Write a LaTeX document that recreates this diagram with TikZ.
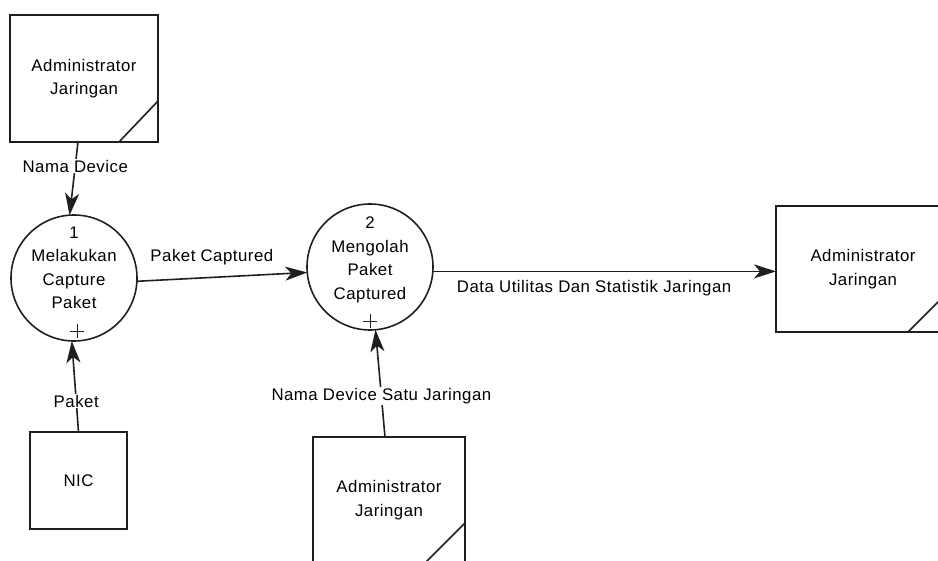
\documentclass[tikz,border=0pt]{standalone}
\usepackage{fontspec}
\setmainfont{Liberation Sans}[LetterSpace=3]
\usetikzlibrary{arrows.meta,calc}
\begin{document}
\begin{tikzpicture}[x=1pt,y=-1pt,
  font=\fontsize{16.8}{23.5}\selectfont,
  every node/.style={inner sep=0pt, outer sep=0pt},
  line/.style={line width=1.6pt, draw=black!88},
  flow/.style={line, -{Stealth[length=22pt,width=14pt,inset=6pt]}},
  proc/.style={circle, line, minimum size=126pt},
  ent/.style={rectangle, line, align=center},
  lbl/.style={fill=white, inner sep=1pt, align=center},
  ptext/.style={align=center},
  crossmark/.style={line width=0.8pt, draw=black!88}
]
\useasboundingbox (0,0) rectangle (938,561);
\clip (0,0) rectangle (938,561);

% external entities (boxes with a corner slash)
\node[ent, minimum width=148pt, minimum height=127pt] (adm1) at (84,78.5)
  {Administrator\\Jaringan};
\node[ent, minimum width=174pt, minimum height=126pt] (adm2) at (863,269)
  {Administrator\\Jaringan};
\node[ent, minimum width=152pt, minimum height=126pt] (adm3) at (389,500)
  {Administrator\\Jaringan};
\node[ent, minimum width=97pt, minimum height=97pt] (nic) at (78.5,480.5) {NIC};

% corner slashes
\draw[line] ($(adm1.south east)+(0,-41)$) -- ($(adm1.south east)+(-39,0)$);
\draw[line] ($(adm2.south east)+(0,-42)$) -- ($(adm2.south east)+(-42,0)$);
\draw[line] ($(adm3.south east)+(0,-40)$) -- ($(adm3.south east)+(-40,0)$);

% processes
\node[proc] (p1) at (74,278) {};
\node[proc] (p2) at (370,267) {};
\node[ptext] (p1t) at (74,268) {1\\Melakukan\\Capture\\Paket};
\node[ptext] (p2t) at (370,260) {2\\Mengolah\\Paket\\Captured};

% expansion marks at the bottom of each process
\coordinate (plus1) at (77,331);
\coordinate (plus2) at (370,321);
\draw[crossmark] ($(plus1)+(-7,0)$) -- ($(plus1)+(7,0)$)
                 ($(plus1)+(0,-7)$) -- ($(plus1)+(0,7)$);
\draw[crossmark] ($(plus2)+(-7,0)$) -- ($(plus2)+(7,0)$)
                 ($(plus2)+(0,-7)$) -- ($(plus2)+(0,7)$);

% data flows
\draw[flow] ([xshift=-6pt]adm1.south) -- node[lbl, pos=0.33] {Nama Device} (p1.94);
\draw[flow] (nic.north) -- node[lbl, pos=0.34] {Paket} (p1.268);
\draw[flow] ([xshift=-4pt]adm3.north) -- node[lbl, pos=0.38] {Nama Device Satu Jaringan} (p2.275);
\draw[flow] (p1.-3) -- node[above=12pt, pos=0.44] {Paket Captured} (p2.185);
\draw[flow] (p2.-4) -- node[below=9pt, pos=0.47] (dlbl) {Data Utilitas Dan Statistik Jaringan} (p2.-4 -| adm2.west);
\end{tikzpicture}
\end{document}
